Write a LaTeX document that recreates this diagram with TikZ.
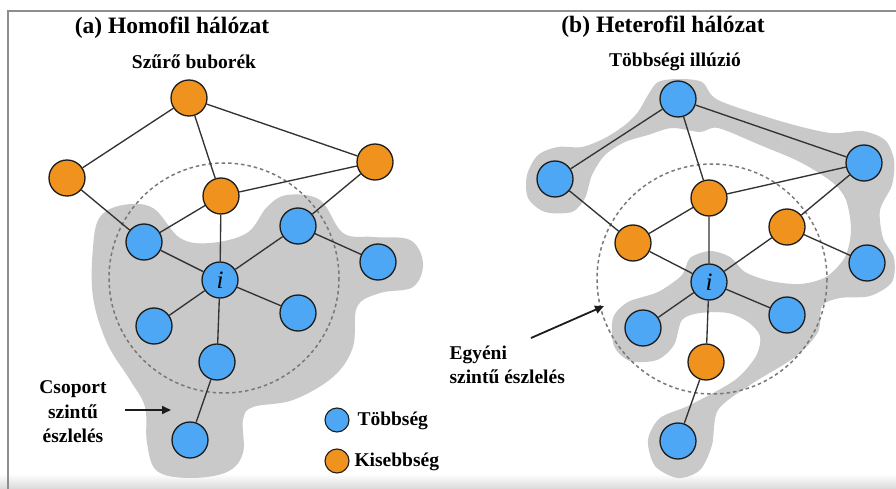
\documentclass[tikz,border=0pt]{standalone}
\usepackage{fontspec}
\setmainfont{Liberation Serif}
\usepackage{tikz}
\usetikzlibrary{arrows.meta}
\definecolor{ink}{HTML}{1C1C1C}
\definecolor{maj}{HTML}{4DA7F5}
\definecolor{mino}{HTML}{F0921E}
\definecolor{blob}{HTML}{C9C9C9}
\definecolor{rim}{HTML}{8E8E8E}

\tikzset{
  agent/.style={circle,draw=ink,line width=1.3pt,minimum size=36pt,inner sep=0pt},
  majnode/.style={agent,fill=maj},
  minnode/.style={agent,fill=mino},
  ego/.style={majnode,font=\itshape\fontsize{25}{25}\selectfont},
  keynode/.style={circle,draw=ink,line width=1.1pt,minimum size=24pt,inner sep=0pt},
  tie/.style={ink!90,line width=1.35pt},
  hood/.style={rim!85!black,line width=1.5pt,dash pattern=on 3.5pt off 3pt},
  ttl/.style={font=\bfseries\fontsize{23.5}{26}\selectfont},
  lbl/.style={font=\bfseries\fontsize{19.5}{24.5}\selectfont},
}

\begin{document}
\begin{tikzpicture}[x=1pt,y=-1pt]
\useasboundingbox (0,0) rectangle (896,489);
\shade[top color=white,bottom color=black!15] (0,474) rectangle (896,489);
\draw[rim,line width=1.6pt] (8,489)--(8,11)--(896,11);

% (a) group bubble
\fill[blob] plot[smooth cycle,tension=0.6] coordinates {(100,217) (123,205) (153,208) (180,238) (210,243) (247,233) (267,207) (287,195) (320,200) (343,233) (373,237) (410,240) (423,263) (413,287) (380,293) (357,307) (353,347) (333,377) (293,400) (253,407) (243,420) (243,453) (227,472) (190,478) (157,471) (147,443) (145,407) (130,380) (107,343) (93,297) (93,247)};
\draw[hood] (224,278) circle (115);

% (b) majority bubbles
\fill[blob] plot[smooth cycle,tension=0.5] coordinates {(678,79) (702,82) (718,100) (780,121) (830,133) (862,131) (885,140) (894,160) (892,185) (880,210) (883,238) (894,258) (892,282) (870,296) (840,298) (822,306) (818,332) (795,357) (750,385) (718,410) (712,445) (700,470) (678,478) (655,466) (648,440) (660,418) (690,405) (735,380) (756,356) (760,336) (748,322) (728,313) (700,313) (682,320) (674,345) (657,360) (630,361) (614,346) (613,318) (628,302) (658,292) (682,275) (690,258) (710,251) (730,257) (745,272) (770,281) (800,284) (826,277) (845,257) (851,230) (846,200) (832,182) (800,162) (760,145) (718,128) (700,132) (672,128) (648,135) (625,142) (605,155) (592,175) (585,198) (572,212) (545,212) (528,198) (527,175) (538,155) (558,147) (582,147) (605,138) (625,125) (638,112) (648,95) (658,82)};
\draw[hood] (712,279) circle (115);

% (a) homophilous network
\node[minnode] (aTop) at (189,98) {};
\node[minnode] (aLeft) at (67,178) {};
\node[minnode] (aRight) at (375,162) {};
\node[minnode] (aMid) at (221,196) {};
\node[majnode] (aUL) at (144,242) {};
\node[majnode] (aUR) at (298,226) {};
\node[majnode] (aFar) at (378,262) {};
\node[ego] (aI) at (220,280) {i};
\node[majnode] (aLL) at (154,326) {};
\node[majnode] (aLR) at (298,313) {};
\node[majnode] (aBot) at (217,362) {};
\node[majnode] (aTail) at (190,440) {};
\draw[tie] (aTop)--(aLeft) (aTop)--(aMid) (aTop)--(aRight) (aLeft)--(aUL) (aMid)--(aRight)
  (aMid)--(aUL) (aMid)--(aI) (aRight)--(aUR) (aUR)--(aFar) (aI)--(aUL) (aI)--(aUR)
  (aI)--(aLL) (aI)--(aLR) (aI)--(aBot) (aBot)--(aTail);

% (b) heterophilous network
\node[majnode] (bTop) at (678,99) {};
\node[majnode] (bLeft) at (555,179) {};
\node[majnode] (bRight) at (864,163) {};
\node[minnode] (bMid) at (709,198) {};
\node[minnode] (bUL) at (633,243) {};
\node[minnode] (bUR) at (787,227) {};
\node[majnode] (bFar) at (867,263) {};
\node[ego] (bI) at (709,282) {i};
\node[majnode] (bLL) at (643,328) {};
\node[majnode] (bLR) at (787,315) {};
\node[minnode] (bBot) at (706,362) {};
\node[majnode] (bTail) at (678,441) {};
\draw[tie] (bTop)--(bLeft) (bTop)--(bMid) (bTop)--(bRight) (bLeft)--(bUL) (bMid)--(bRight)
  (bMid)--(bUL) (bMid)--(bI) (bRight)--(bUR) (bUR)--(bFar) (bI)--(bUL) (bI)--(bUR)
  (bI)--(bLL) (bI)--(bLR) (bI)--(bBot) (bBot)--(bTail);

% titles and labels
\node[ttl] (titleA) at (172,28) {(a) Homofil hálózat};
\node[lbl] (bubble) at (194,62) {Szűrő buborék};
\node[ttl] (titleB) at (663,27) {(b) Heterofil hálózat};
\node[lbl] (illusion) at (675,62) {Többségi illúzió};
\node[lbl,align=center] (groupLbl) at (73,412) {Csoport\\szintű\\észlelés};
\node[lbl,align=left,anchor=west] (egoLbl) at (446,365) {Egyéni\\szintű észlelés};
\coordinate (groupFrom) at (125,410);
\coordinate (groupTo) at (171,410);
\coordinate (egoFrom) at (531,338);
\coordinate (egoTo) at (604,306);
\draw[ink,line width=1.8pt,-{Triangle[length=9pt,width=8pt]}] (groupFrom)--(groupTo);
\draw[ink,line width=1.8pt,-{Triangle[length=9pt,width=8pt]}] (egoFrom)--(egoTo);

% legend
\node[keynode,fill=maj] (keyMaj) at (337,420) {};
\node[keynode,fill=mino] (keyMin) at (337,461) {};
\node[lbl,anchor=west] (keyMajTxt) at (354,421) {Többség};
\node[lbl,anchor=west] (keyMinTxt) at (351,462) {Kisebbség};
\end{tikzpicture}
\end{document}
